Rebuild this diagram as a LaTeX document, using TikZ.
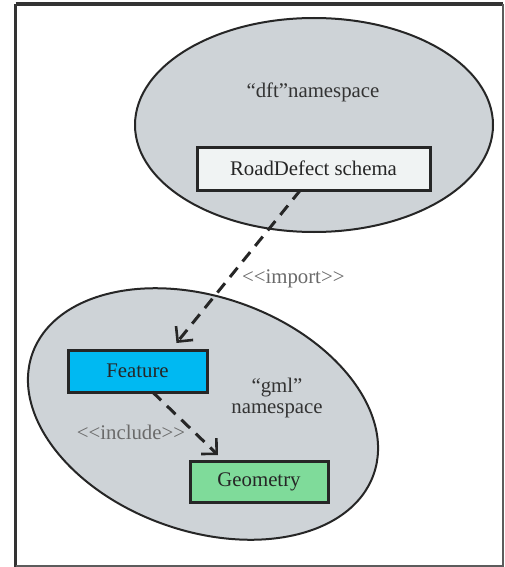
\documentclass[tikz,border=0pt]{standalone}
\usepackage{fontspec}
\setmainfont{Liberation Serif}
\usetikzlibrary{shapes.geometric,arrows.meta}
\definecolor{nsgray}{HTML}{CED3D7}
\definecolor{rdfill}{HTML}{F0F3F3}
\definecolor{featfill}{HTML}{00B9F2}
\definecolor{geofill}{HTML}{7FDB9A}
\definecolor{framecol}{HTML}{333333}
\definecolor{labgray}{HTML}{6A6A6A}
\newcommand{\lt}{<\kern0pt}
\newcommand{\gt}{>\kern0pt}
\tikzset{
  nsellipse/.style={ellipse, draw=black!85, line width=1pt, fill=nsgray, inner sep=0pt, outer sep=0pt},
  classbox/.style={rectangle, draw=black!85, line width=1.5pt, inner sep=0pt, outer sep=0pt, text=black!85,
    font=\fontsize{10.4}{12}\selectfont},
  nstext/.style={text=black!80, font=\fontsize{10.4}{10.5}\selectfont, align=center, inner sep=0pt},
  stereo/.style={text=labgray, font=\fontsize{10.4}{12}\selectfont, inner sep=0pt},
  dep/.style={draw=black!85, line width=1.5pt, dash pattern=on 6pt off 4pt,
    -{Straight Barb[length=5.5pt,width=11pt,line width=1.3pt]}}
}
\begin{document}
\begin{tikzpicture}[x=0.5pt,y=-0.5pt]
\useasboundingbox (0,0) rectangle (504,567);
\fill[white] (0,0) rectangle (504,567);
% frame
\draw[framecol, line width=2pt] (15.5,4) -- (503,4);
\draw[framecol, line width=1.5pt] (15.5,4) -- (15.5,567);
\draw[framecol!80, line width=0.8pt] (503,4) -- (503,566) -- (15.5,566);
% namespaces
\node[nsellipse, minimum width=179pt, minimum height=107pt] (dft) at (314,125) {};
\node[nsellipse, minimum width=181pt, minimum height=117pt, rotate=-19.5] (gml) at (203,414) {};
% labels
\node[nstext] (dftlab) at (313,92) {“dft"namespace};
\node[nstext] (gmllab) at (277,398) {“gml”\\namespace};
% classes
\node[classbox, fill=rdfill, minimum width=116.5pt, minimum height=21.5pt] (rd) at (313.5,168.5) {RoadDefect schema};
\node[classbox, fill=featfill, minimum width=69.5pt, minimum height=21pt] (feat) at (137.5,371) {Feature};
\node[classbox, fill=geofill, minimum width=69pt, minimum height=20.5pt] (geo) at (259,481.5) {Geometry};
% dependencies
\draw[dep] ([xshift=-6.5pt]rd.south) -- ([xshift=19.5pt,yshift=3.5pt]feat.north)
  node[stereo, pos=0.58, anchor=west, xshift=6pt] (implab) {\lt\lt import\gt\gt};
\draw[dep] ([xshift=7.5pt]feat.south) -- ([xshift=-20.5pt,yshift=3pt]geo.north)
  node[stereo, pos=0.55, anchor=east, xshift=-1pt, yshift=-3pt] (inclab) {\lt\lt include\gt\gt};
\end{tikzpicture}
\end{document}
